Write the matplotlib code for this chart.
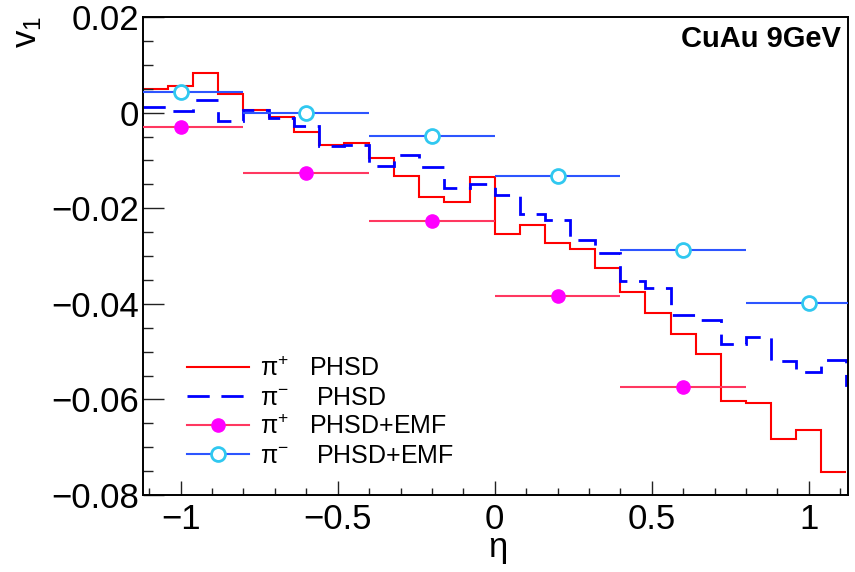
import numpy as np
import matplotlib.pyplot as plt
from matplotlib.lines import Line2D
from matplotlib.ticker import MultipleLocator, FuncFormatter

plt.rcParams['font.family'] = ['Liberation Sans', 'DejaVu Sans']
plt.rcParams['mathtext.default'] = 'regular'

# histogram bins in eta (step 0.08); blue one has an extra bin past the frame
edges = np.linspace(-1.12, 1.12, 29)
edges_pim = np.linspace(-1.12, 1.20, 30)

pip_phsd = [0.0050, 0.0055, 0.0083, 0.0038, 0.0006, -0.0009, -0.0040,
            -0.0068, -0.0063, -0.0094, -0.0132, -0.0176, -0.0188, -0.0134,
            -0.0254, -0.0236, -0.0273, -0.0285, -0.0326, -0.0376, -0.0420,
            -0.0464, -0.0506, -0.0603, -0.0607, -0.0682, -0.0663, -0.0752]
pim_phsd = [0.0011, 0.0003, 0.0026, -0.0018, 0.0006, -0.0011, -0.0027,
            -0.0069, -0.0067, -0.0112, -0.0088, -0.0114, -0.0158, -0.0149,
            -0.0172, -0.0213, -0.0225, -0.0267, -0.0294, -0.0353, -0.0367,
            -0.0423, -0.0434, -0.0485, -0.0469, -0.0519, -0.0543, -0.0517,
            -0.0570]

# PHSD+EMF points, bin half-width 0.2
eta_pip_emf = [-1.0, -0.6, -0.2, 0.2, 0.6]
pip_emf = [-0.0031, -0.0126, -0.0227, -0.0383, -0.0575]
eta_pim_emf = [-1.0, -0.6, -0.2, 0.2, 0.6, 1.0]
pim_emf = [0.0043, -0.0001, -0.0048, -0.0133, -0.0287, -0.0398]
emf_halfwidth = 0.2

red = '#ff0000'
blue = '#0000ff'
pink = '#ff3860'
magenta = '#ff00ff'
lblue = '#2d55ff'
cyan = '#30c8f0'

fig = plt.figure(figsize=(8.55, 5.72), dpi=100)
ax = fig.add_axes([143 / 855, 1 - 495 / 572, 705 / 855, 478 / 572])

ax.stairs(pip_phsd, edges, baseline=None, color=red, lw=1.5)
ax.stairs(pim_phsd, edges_pim, baseline=None, color=blue, lw=2.0,
          linestyle=(0, (8.0, 4.2)))

ax.errorbar(eta_pip_emf, pip_emf, xerr=emf_halfwidth, fmt='o', color=pink,
            mfc=magenta, mec=magenta, ms=9.5, elinewidth=1.5, capsize=0,
            zorder=4)
ax.errorbar(eta_pim_emf, pim_emf, xerr=emf_halfwidth, fmt='o', color=lblue,
            mfc='white', mec=cyan, mew=2, ms=10, elinewidth=1.5, capsize=0,
            zorder=4)

ax.set_xlim(-1.12, 1.125)
ax.set_ylim(-0.08, 0.02)

ax.xaxis.set_major_locator(MultipleLocator(0.5))
ax.xaxis.set_minor_locator(MultipleLocator(0.1))
ax.yaxis.set_major_locator(MultipleLocator(0.02))
ax.yaxis.set_minor_locator(MultipleLocator(0.005))


def fmt(v, pos):
    if abs(v) < 1e-9:
        return '0'
    s = f'{v:.2f}' if abs(v) < 0.1 else f'{v:g}'
    return s.replace('-', '\u2212')


ax.xaxis.set_major_formatter(FuncFormatter(lambda v, p: f'{v:g}'.replace('-', '\u2212')))
ax.yaxis.set_major_formatter(FuncFormatter(fmt))
ax.tick_params(which='both', direction='in', top=False, right=False,
               labelsize=25, width=1.0, color='#222222')
ax.tick_params(axis='y', which='major', length=15, pad=3)
ax.tick_params(axis='y', which='minor', length=7.5)
ax.tick_params(axis='x', which='major', length=10, pad=6)
ax.tick_params(axis='x', which='minor', length=5)
for s in ax.spines.values():
    s.set_linewidth(1.4)

fig.text(27 / 855, 1 - 16 / 572, 'v$_1$', rotation=90, ha='center', va='top',
         fontsize=25)
fig.text(497 / 855, 1 - 550 / 572, r'$\eta$', ha='center', va='center',
         fontsize=25)
ax.text(0.99, 0.938, 'CuAu 9GeV', transform=ax.transAxes, ha='right',
        va='baseline', fontsize=21, fontweight='bold')

handles = [
    Line2D([], [], color=red, lw=1.5),
    Line2D([], [], color=blue, lw=2.0, linestyle=(0, (8.0, 4.2))),
    Line2D([], [], color=pink, lw=1.5, marker='o', mfc=magenta, mec=magenta,
           ms=9.5),
    Line2D([], [], color=lblue, lw=1.5, marker='o', mfc='white', mec=cyan,
           mew=2, ms=10),
]
labels = [r'$\pi^{+}$   PHSD', r'$\pi^{-}$    PHSD',
          r'$\pi^{+}$   PHSD+EMF', r'$\pi^{-}$    PHSD+EMF']
ax.legend(handles, labels, loc='upper left', bbox_to_anchor=(0.062, 0.29),
          frameon=False, fontsize=18, handlelength=2.5, handletextpad=0.42,
          labelspacing=0.2, borderpad=0, borderaxespad=0)

fig.savefig('out.png', dpi=100)
